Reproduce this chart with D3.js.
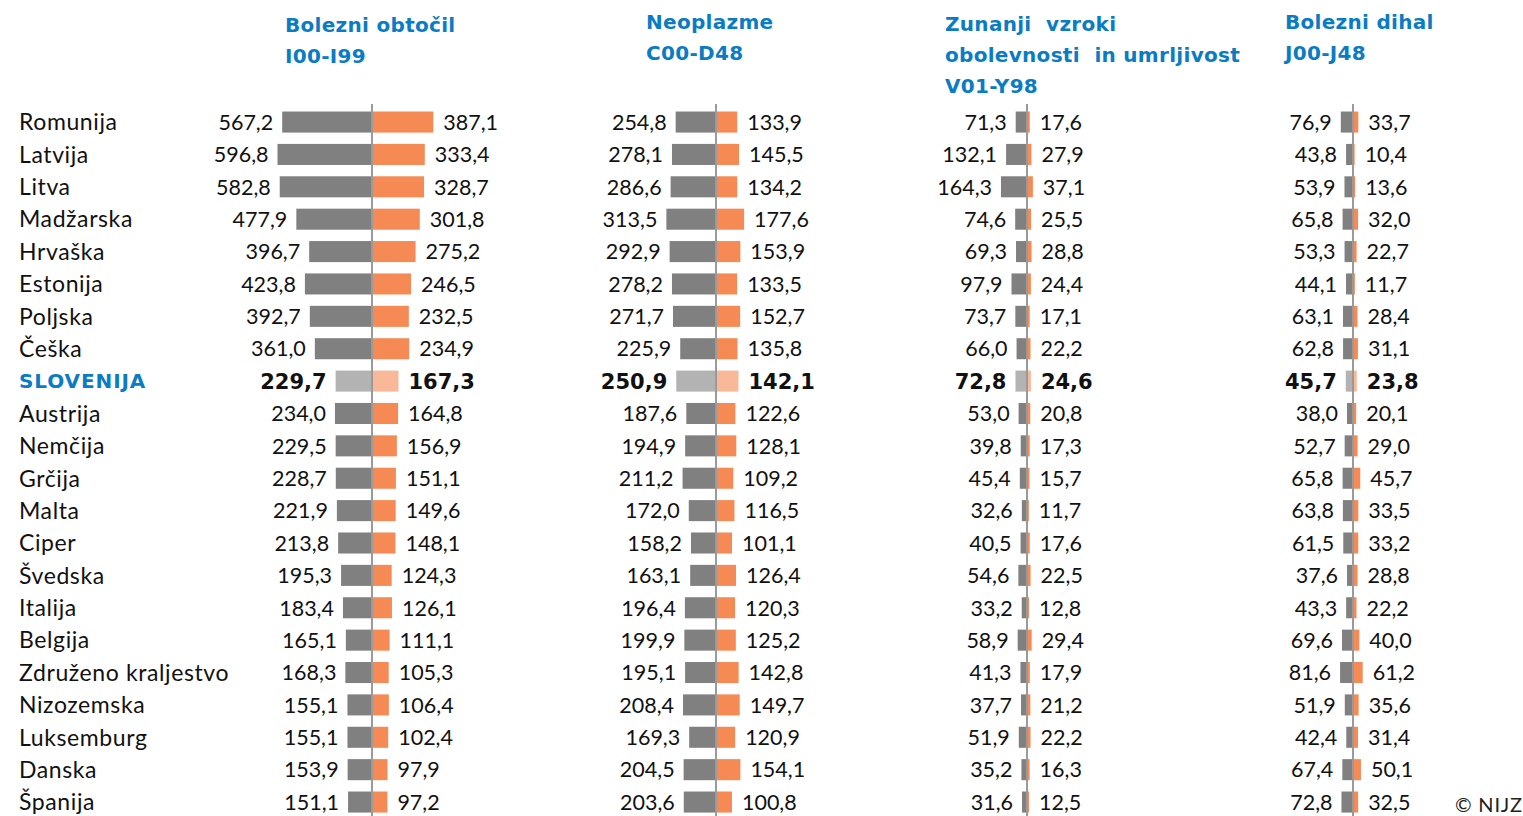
<!DOCTYPE html>
<html>
<head>
<meta charset="utf-8">
<script src="https://cdn.jsdelivr.net/npm/d3@7"></script>
<style>
  body { margin: 0; background: #fff; }
  svg { display: block; }
</style>
</head>
<body>
<svg></svg>
<script>
const svg_width = 1523;
const svg_height = 816;

const countries = ["Romunija", "Latvija", "Litva", "Madžarska", "Hrvaška", "Estonija", "Poljska", "Češka",
    "SLOVENIJA", "Austrija", "Nemčija", "Grčija", "Malta", "Ciper", "Švedska", "Italija", "Belgija",
    "Združeno kraljestvo", "Nizozemska", "Luksemburg", "Danska", "Španija"];
const highlight = "SLOVENIJA";

const titles = [
    ["Bolezni obtočil", "I00-I99"],
    ["Neoplazme", "C00-D48"],
    ["Zunanji\u00a0 vzroki", "obolevnosti\u00a0 in umrljivost", "V01-Y98"],
    ["Bolezni dihal", "J00-J48"]
];

// grey = moški, orange = ženske
const circGrey = [567.2, 596.8, 582.8, 477.9, 396.7, 423.8, 392.7, 361.0, 229.7, 234.0, 229.5, 228.7, 221.9, 213.8, 195.3, 183.4, 165.1, 168.3, 155.1, 155.1, 153.9, 151.1];
const circOrange = [387.1, 333.4, 328.7, 301.8, 275.2, 246.5, 232.5, 234.9, 167.3, 164.8, 156.9, 151.1, 149.6, 148.1, 124.3, 126.1, 111.1, 105.3, 106.4, 102.4, 97.9, 97.2];
const neoGrey = [254.8, 278.1, 286.6, 313.5, 292.9, 278.2, 271.7, 225.9, 250.9, 187.6, 194.9, 211.2, 172.0, 158.2, 163.1, 196.4, 199.9, 195.1, 208.4, 169.3, 204.5, 203.6];
const neoOrange = [133.9, 145.5, 134.2, 177.6, 153.9, 133.5, 152.7, 135.8, 142.1, 122.6, 128.1, 109.2, 116.5, 101.1, 126.4, 120.3, 125.2, 142.8, 149.7, 120.9, 154.1, 100.8];
const extGrey = [71.3, 132.1, 164.3, 74.6, 69.3, 97.9, 73.7, 66.0, 72.8, 53.0, 39.8, 45.4, 32.6, 40.5, 54.6, 33.2, 58.9, 41.3, 37.7, 51.9, 35.2, 31.6];
const extOrange = [17.6, 27.9, 37.1, 25.5, 28.8, 24.4, 17.1, 22.2, 24.6, 20.8, 17.3, 15.7, 11.7, 17.6, 22.5, 12.8, 29.4, 17.9, 21.2, 22.2, 16.3, 12.5];
const respGrey = [76.9, 43.8, 53.9, 65.8, 53.3, 44.1, 63.1, 62.8, 45.7, 38.0, 52.7, 65.8, 63.8, 61.5, 37.6, 43.3, 69.6, 81.6, 51.9, 42.4, 67.4, 72.8];
const respOrange = [33.7, 10.4, 13.6, 32.0, 22.7, 11.7, 28.4, 31.1, 23.8, 20.1, 29.0, 45.7, 33.5, 33.2, 28.8, 22.2, 40.0, 61.2, 35.6, 31.4, 50.1, 32.5];

const panels = [
    {grey: circGrey, orange: circOrange, axisX: 372, titleX: 285, titleY: 32},
    {grey: neoGrey, orange: neoOrange, axisX: 716, titleX: 646, titleY: 29},
    {grey: extGrey, orange: extOrange, axisX: 1027, titleX: 945, titleY: 31},
    {grey: respGrey, orange: respOrange, axisX: 1353, titleX: 1285, titleY: 29}
];

const fmt = v => v.toFixed(1).replace(".", ",");

const svg = d3.select("svg")
    .attr("width", svg_width)
    .attr("height", svg_height);

const yScale = d3.scaleBand()
    .domain(countries)
    .range([100.2, 823.9])
    .padding(0.35);

const xScale = d3.scaleLinear() // px per enota
    .domain([0, 600])
    .range([0, 95]);

// imena držav
svg.append("g").selectAll("text")
    .data(countries)
    .enter()
    .append("text")
    .attr("x", 19)
    .attr("y", d => yScale(d) + yScale.bandwidth() / 2)
    .attr("dy", "0.36em")
    .attr("font-family", d => d === highlight ? "DejaVu Sans" : "Lato")
    .attr("font-weight", d => d === highlight ? "bold" : "normal")
    .attr("font-size", d => d === highlight ? 20 : 23)
    .attr("letter-spacing", d => d === highlight ? 0.9 : 0.6)
    .attr("fill", d => d === highlight ? "#0a7cc4" : "#111")
    .text(d => d);

panels.forEach((p, k) => {
    const g = svg.append("g").attr("transform", `translate(${p.axisX}, 0)`);
    const rows = countries.map((c, i) => ({c: c, m: p.grey[i], f: p.orange[i]}));

    // naslov
    svg.append("text")
        .attr("x", p.titleX)
        .attr("y", p.titleY)
        .attr("font-family", "DejaVu Sans")
        .attr("font-weight", "bold")
        .attr("font-size", 20)
        .attr("letter-spacing", 0.3)
        .attr("fill", "#0a7cc4")
        .selectAll("tspan")
        .data(titles[k])
        .enter()
        .append("tspan")
        .attr("x", p.titleX)
        .attr("dy", (d, i) => i === 0 ? 0 : 31)
        .text(d => d);

    g.append("g").selectAll("rect")
        .data(rows)
        .enter()
        .append("rect")
        .attr("x", d => -xScale(d.m))
        .attr("y", d => yScale(d.c))
        .attr("width", d => xScale(d.m))
        .attr("height", yScale.bandwidth())
        .attr("fill", d => d.c === highlight ? "#b3b3b3" : "#808080");

    g.append("g").selectAll("rect")
        .data(rows)
        .enter()
        .append("rect")
        .attr("x", 0)
        .attr("y", d => yScale(d.c))
        .attr("width", d => xScale(d.f))
        .attr("height", yScale.bandwidth())
        .attr("fill", d => d.c === highlight ? "#f9b898" : "#f58a54");

    // os
    g.append("line")
        .attr("x1", 0).attr("x2", 0)
        .attr("y1", 104).attr("y2", svg_height)
        .attr("stroke", "#9a9a9a")
        .attr("stroke-width", 2);

    const labelStyle = sel => sel
        .attr("y", d => yScale(d.c) + yScale.bandwidth() / 2)
        .attr("dy", "0.36em")
        .attr("font-family", d => d.c === highlight ? "DejaVu Sans" : "Lato")
        .attr("font-weight", d => d.c === highlight ? "bold" : "normal")
        .attr("font-size", d => d.c === highlight ? 21 : 21.5)
        .attr("fill", "#111");

    g.append("g").selectAll("text")
        .data(rows)
        .enter()
        .append("text")
        .call(labelStyle)
        .attr("x", d => -xScale(d.m) - 9)
        .attr("text-anchor", "end")
        .text(d => fmt(d.m));

    g.append("g").selectAll("text")
        .data(rows)
        .enter()
        .append("text")
        .call(labelStyle)
        .attr("x", d => xScale(d.f) + 10)
        .text(d => fmt(d.f));
});

svg.append("text")
    .attr("x", 1455)
    .attr("y", 812)
    .attr("font-family", "Lato")
    .attr("font-size", 20)
    .attr("letter-spacing", 0.8)
    .attr("fill", "#222")
    .text("© NIJZ");
</script>
</body>
</html>
